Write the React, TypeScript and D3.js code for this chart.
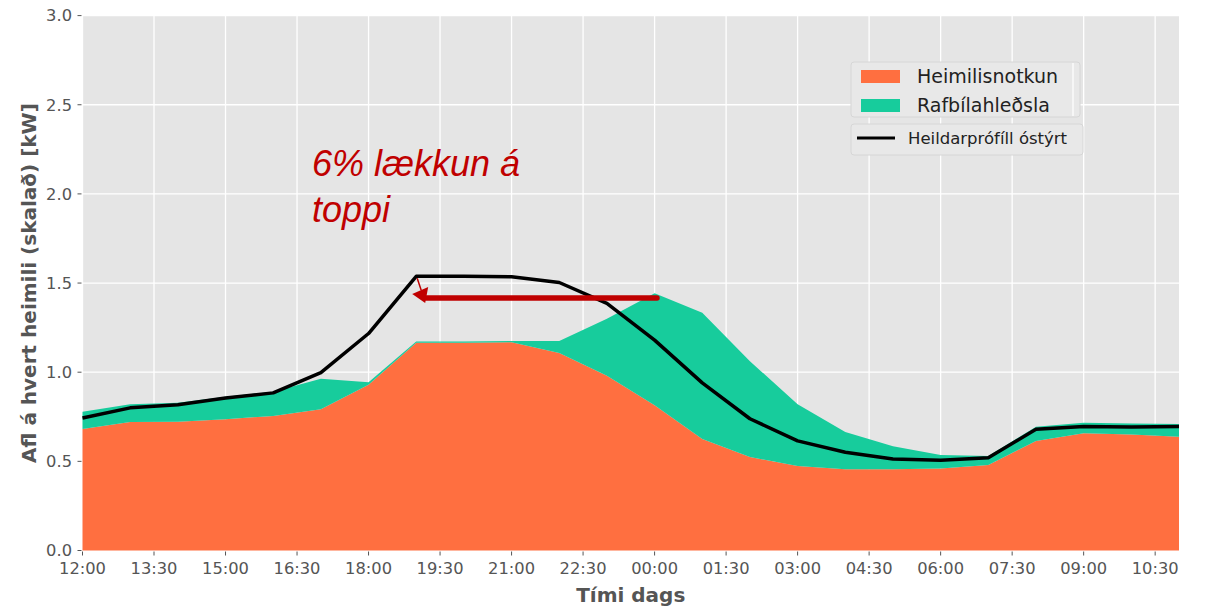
import React from "react";
import * as d3 from "d3";

// Hours after 12:00 (hourly samples, 12:00 .. 11:00 next day)
const hours = [0, 1, 2, 3, 4, 5, 6, 7, 8, 9, 10, 11, 12, 13, 14, 15, 16, 17, 18, 19, 20, 21, 22, 23];
// Heimilisnotkun (household consumption)
const household = [0.682, 0.72, 0.722, 0.736, 0.755, 0.792, 0.93, 1.165, 1.165, 1.168, 1.107, 0.98, 0.815, 0.625, 0.524, 0.474, 0.456, 0.456, 0.46, 0.479, 0.614, 0.657, 0.65, 0.638];
// Total with EV charging (top of green band)
const totalManaged = [0.778, 0.82, 0.828, 0.862, 0.89, 0.963, 0.944, 1.172, 1.172, 1.175, 1.175, 1.3, 1.443, 1.333, 1.062, 0.82, 0.664, 0.585, 0.536, 0.53, 0.694, 0.716, 0.712, 0.71];
// Heildarprófíll óstýrt (unmanaged total)
const totalUnmanaged = [0.743, 0.8, 0.817, 0.855, 0.884, 0.998, 1.217, 1.538, 1.538, 1.535, 1.503, 1.386, 1.18, 0.94, 0.739, 0.615, 0.551, 0.513, 0.506, 0.52, 0.68, 0.695, 0.693, 0.695];

const xTickValues = [0, 1.5, 3, 4.5, 6, 7.5, 9, 10.5, 12, 13.5, 15, 16.5, 18, 19.5, 21, 22.5];
const xTickLabels = ["12:00", "13:30", "15:00", "16:30", "18:00", "19:30", "21:00", "22:30", "00:00", "01:30", "03:00", "04:30", "06:00", "07:30", "09:00", "10:30"];
const yTickValues = [0, 0.5, 1, 1.5, 2, 2.5, 3];
const yTickLabels = ["0.0", "0.5", "1.0", "1.5", "2.0", "2.5", "3.0"];

const seriesNames = ["Heimilisnotkun", "Rafbílahleðsla", "Heildarprófíll óstýrt"];
const annotationLines = ["6% lækkun á", "toppi"];
// arrow in data coordinates: [hour, kW]
const arrowStart = [12.05, 1.416];
const arrowEnd = [7.2, 1.416];
const peakPoint = [7.0, 1.538];

const W = 1209;
const H = 608;
const left = 82.5;
const right = 1179;
const top = 15.6;
const bottom = 550.5;

const ORANGE = "#FF6F40";
const GREEN = "#17CC9C";
const BG = "#E5E5E5";
const RED = "#C00000";
const TICK = "#555555";

export default function App() {
  const x = d3.scaleLinear().domain([0, 23]).range([left, right]);
  const y = d3.scaleLinear().domain([0, 3]).range([bottom, top]);

  const idx = hours.map((_, i) => i);
  const areaHouse = d3
    .area<number>()
    .x((i) => x(hours[i]))
    .y0(() => y(0))
    .y1((i) => y(household[i]));
  const areaEV = d3
    .area<number>()
    .x((i) => x(hours[i]))
    .y0((i) => y(household[i]))
    .y1((i) => y(totalManaged[i]));
  const line = d3
    .line<number>()
    .x((i) => x(hours[i]))
    .y((i) => y(totalUnmanaged[i]));

  const ax1 = x(arrowStart[0]);
  const ay = y(arrowStart[1]);
  const ax2 = x(arrowEnd[0]);
  const px = x(peakPoint[0]);
  const py = y(peakPoint[1]);

  const font = "'DejaVu Sans', sans-serif";

  return (
    <svg width={W} height={H} style={{ position: "absolute", left: 0, top: 0, background: "#fff" }}>
      <rect x={left} y={top} width={right - left} height={bottom - top} fill={BG} />
      {/* grid */}
      {xTickValues.map((t) => (
        <line key={"gx" + t} x1={x(t)} x2={x(t)} y1={top} y2={bottom} stroke="#fff" strokeWidth={1.3} />
      ))}
      {yTickValues.map((t) => (
        <line key={"gy" + t} x1={left} x2={right} y1={y(t)} y2={y(t)} stroke="#fff" strokeWidth={1.3} />
      ))}
      {/* areas */}
      <path d={areaHouse(idx) || ""} fill={ORANGE} />
      <path d={areaEV(idx) || ""} fill={GREEN} />
      <path d={line(idx) || ""} fill="none" stroke="#000" strokeWidth={3.5} strokeLinejoin="round" />

      {/* axes ticks */}
      {xTickValues.map((t, i) => (
        <g key={"xt" + t}>
          <line x1={x(t)} x2={x(t)} y1={bottom + 1} y2={bottom + 5} stroke={TICK} strokeWidth={1} />
          <text x={x(t)} y={574} textAnchor="middle" fontFamily={font} fontSize={16.3} fill={TICK}>
            {xTickLabels[i]}
          </text>
        </g>
      ))}
      {yTickValues.map((t, i) => (
        <g key={"yt" + t}>
          <line x1={left - 5} x2={left - 1} y1={y(t)} y2={y(t)} stroke={TICK} strokeWidth={1} />
          <text x={72} y={y(t)} dy="0.36em" textAnchor="end" fontFamily={font} fontSize={16.3} fill={TICK}>
            {yTickLabels[i]}
          </text>
        </g>
      ))}
      {/* axis labels */}
      <text x={(left + right) / 2} y={602} textAnchor="middle" fontFamily={font} fontWeight="bold" fontSize={20} fill={TICK}>
        Tími dags
      </text>
      <text
        transform={`translate(36, ${(top + bottom) / 2}) rotate(-90)`}
        textAnchor="middle"
        fontFamily={font}
        fontWeight="bold"
        fontSize={20}
        fill={TICK}
      >
        Afl á hvert heimili (skalað) [kW]
      </text>

      {/* annotation */}
      {annotationLines.map((s, i) => (
        <text key={s} x={312} y={176 + i * 46} fontFamily="'Liberation Sans', Arial, sans-serif" fontStyle="italic" fontSize={36} fill={RED}>
          {s}
        </text>
      ))}
      <line x1={ax1} x2={ax2} y1={ay} y2={ay} stroke={RED} strokeWidth={5.5} strokeLinecap="round" />
      <line x1={px + 1} y1={py + 2} x2={px + 5} y2={py + 14} stroke={RED} strokeWidth={1.5} />
      <polygon
        points={`${px - 4},${ay - 4} ${px + 12},${ay - 11} ${px + 9},${ay + 5}`}
        fill={RED}
      />

      {/* legend */}
      <rect x={851} y={62} width={229} height={55} rx={3} fill="#E8E8E8" stroke="#D6D6D6" strokeWidth={1} />
      <line x1={1073} x2={1073} y1={63} y2={116} stroke="#fff" strokeWidth={1.2} />
      <rect x={861} y={70} width={39} height={13} fill={ORANGE} />
      <text x={917} y={83} fontFamily={font} fontSize={19} fill="#222">
        {seriesNames[0]}
      </text>
      <rect x={861} y={99} width={39} height={13} fill={GREEN} />
      <text x={917} y={112} fontFamily={font} fontSize={19} fill="#222">
        {seriesNames[1]}
      </text>
      <rect x={851} y={124} width={232} height={31} rx={3} fill="#E8E8E8" stroke="#D6D6D6" strokeWidth={1} />
      <line x1={857} x2={895} y1={138} y2={138} stroke="#000" strokeWidth={3} />
      <text x={908} y={144} fontFamily={font} fontSize={16.5} fill="#222">
        {seriesNames[2]}
      </text>
    </svg>
  );
}
